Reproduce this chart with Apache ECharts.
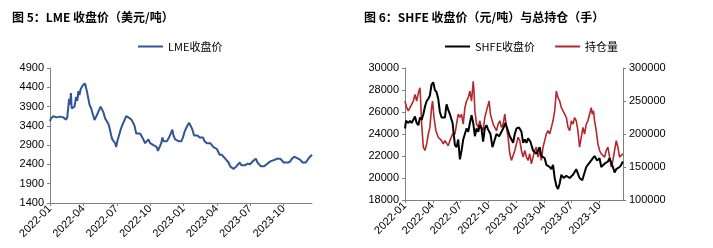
<!DOCTYPE html>
<html>
<head>
<meta charset="utf-8">
<script src="https://cdn.jsdelivr.net/npm/echarts@6/dist/echarts.min.js"></script>
<style>
  html, body { margin: 0; padding: 0; background: #fff; }
  #main { width: 713px; height: 248px; }
</style>
</head>
<body>
<div id="main"></div>
<script>
// x values are months counted from 2022-01 (0 = start of Jan 2022)
var lmeMonths = [0.00,0.10,0.20,0.30,0.45,0.60,0.75,0.90,1.05,1.20,1.35,1.45,1.55,1.65,1.72,1.80,1.88,1.95,2.05,2.20,
  2.35,2.45,2.55,2.65,2.75,2.85,2.95,3.05,3.15,3.25,3.35,3.45,3.55,3.70,3.85,4.00,4.10,4.25,4.40,4.55,
  4.65,4.80,4.95,5.10,5.25,5.35,5.50,5.60,5.75,5.85,5.95,6.05,6.20,6.40,6.55,6.70,6.85,7.00,7.15,7.35,
  7.50,7.60,7.75,7.90,8.10,8.30,8.45,8.55,8.70,8.85,9.00,9.15,9.30,9.45,9.60,9.70,9.85,10.00,10.10,10.20,
  10.35,10.50,10.70,10.85,11.00,11.10,11.25,11.40,11.60,11.80,11.95,12.10,12.25,12.40,12.50,12.65,12.80,12.95,13.10,13.25,
  13.45,13.60,13.75,13.90,14.10,14.25,14.40,14.55,14.70,14.85,15.00,15.10,15.25,15.45,15.60,15.75,15.90,16.05,16.20,16.35,
  16.50,16.60,16.75,16.90,17.05,17.20,17.35,17.55,17.75,17.95,18.10,18.30,18.50,18.65,18.80,18.95,19.10,19.25,19.45,19.60,
  19.80,20.00,20.20,20.40,20.55,20.70,20.85,21.00,21.20,21.40,21.60,21.75,21.95,22.10,22.30,22.50,22.70,22.85,23.00,23.15,
  23.30,23.55];
var lmeValues = [3520,3600,3560,3650,3600,3620,3600,3640,3600,3620,3590,3560,3620,3900,4100,3950,4250,3850,3820,3900,
  4150,4050,4300,4200,4350,4300,4450,4400,4500,4450,4250,4100,3950,3850,3700,3550,3600,3700,3800,3900,
  3880,3750,3600,3550,3450,3350,3150,3050,3050,2950,2850,3000,3150,3350,3450,3500,3650,3600,3600,3550,
  3550,3400,3200,3150,3200,3100,3050,2950,2950,3050,2950,2950,2900,2950,2850,2750,2850,2950,3100,3000,
  2950,3000,3100,3200,3300,3150,3050,3000,3000,3000,3100,3250,3350,3400,3480,3400,3300,3150,3100,3150,
  3100,3050,3100,3000,2950,2900,2950,2900,2850,2850,2800,2750,2650,2650,2600,2550,2500,2450,2350,2300,
  2280,2250,2350,2400,2450,2380,2400,2380,2420,2400,2450,2500,2550,2450,2400,2350,2300,2350,2400,2450,
  2480,2500,2520,2550,2600,2550,2500,2450,2450,2450,2480,2550,2600,2580,2550,2520,2450,2400,2450,2500,
  2580,2650];

var shfeMonths = [0.00,0.11,0.36,0.54,0.72,0.90,1.08,1.26,1.44,1.62,1.80,1.98,2.16,2.34,2.52,2.69,2.87,3.05,3.23,3.41,
  3.59,3.77,3.95,4.13,4.31,4.49,4.67,4.85,5.14,5.39,5.57,5.75,5.93,6.11,6.29,6.47,6.65,6.83,7.01,7.19,
  7.37,7.55,7.73,7.91,8.08,8.26,8.44,8.62,8.80,8.98,9.23,9.45,9.70,9.88,10.17,10.42,10.60,10.85,11.32,11.50,
  11.68,11.86,12.04,12.32,12.58,12.76,12.94,13.12,13.30,13.55,13.83,14.19,14.55,14.73,15.09,15.27,15.63,15.81,15.99,16.17,
  16.35,16.53,16.71,16.89,17.14,17.43,17.79,18.15,18.50,18.68,18.86,19.15,19.40,19.58,19.94,20.30,20.48,20.73,21.02,21.20,
  21.56,21.92,22.10,22.28,22.46,22.64,22.82,23.18,23.36,23.54];
var shfeValues = [24500,25200,25000,25200,25000,25300,25600,25000,24800,25500,25300,25800,26500,27000,27200,27500,28500,28700,28000,27800,
  27200,26000,25500,25600,25500,26700,26200,25800,25000,23000,22800,23500,21700,22500,23500,24000,24500,24200,25000,25700,
  25000,23800,24500,24200,24800,24500,23300,24500,24800,24400,24000,22800,23500,24000,23800,24200,24500,25000,23800,23500,
  23200,24000,24500,24600,24200,23200,23500,23200,23600,23300,22500,22200,22800,22000,21800,21200,21000,20800,21200,20000,
  19300,19000,19500,20300,20000,20200,20000,20300,20800,20400,20000,19800,20500,21000,21400,21800,22000,21600,21800,21000,
  21300,21500,21800,21400,21000,20500,20800,21000,21200,21500];

var oiMonths = [0.00,0.18,0.36,0.54,0.72,0.90,1.08,1.26,1.44,1.62,1.69,1.80,1.98,2.16,2.34,2.52,2.69,2.87,2.98,3.13,
  3.34,3.59,3.95,4.13,4.31,4.67,4.85,5.14,5.39,5.57,5.75,5.93,6.11,6.29,6.47,6.65,6.83,7.01,7.19,7.37,
  7.47,7.55,7.73,7.91,8.08,8.26,8.44,8.62,8.80,9.09,9.23,9.52,9.70,9.88,10.06,10.24,10.42,10.60,10.78,10.96,
  11.14,11.32,11.50,11.68,11.86,12.04,12.22,12.40,12.58,12.76,12.94,13.12,13.30,13.47,13.65,13.83,14.01,14.19,14.37,14.55,
  14.73,14.91,15.09,15.27,15.45,15.63,15.81,15.99,16.17,16.35,16.53,16.71,16.89,17.07,17.25,17.43,17.61,17.79,17.97,18.15,
  18.32,18.50,18.68,18.86,19.04,19.22,19.40,19.58,19.76,19.94,20.12,20.23,20.37,20.48,20.66,20.84,21.02,21.20,21.38,21.56,
  21.74,21.92,22.10,22.28,22.46,22.64,22.82,23.00,23.18,23.36,23.54];
var oiValues = [250000,240000,235000,240000,245000,250000,260000,250000,262000,270000,250000,215000,180000,175000,185000,200000,210000,240000,250000,225000,
  205000,195000,190000,185000,190000,182000,190000,200000,200000,215000,230000,225000,230000,215000,240000,250000,255000,265000,250000,280000,
  260000,235000,215000,210000,220000,210000,205000,225000,235000,250000,230000,215000,210000,205000,215000,220000,210000,215000,230000,210000,
  195000,170000,160000,158000,175000,185000,195000,190000,175000,165000,175000,165000,160000,170000,155000,165000,175000,180000,165000,175000,
  160000,180000,190000,200000,205000,200000,210000,220000,235000,265000,255000,250000,240000,235000,230000,225000,210000,205000,220000,215000,
  225000,220000,205000,180000,195000,210000,200000,215000,220000,230000,240000,230000,235000,220000,205000,185000,175000,170000,172000,165000,
  175000,180000,165000,150000,160000,175000,190000,180000,165000,162000,170000];

var quarterTicks = [0, 3, 6, 9, 12, 15, 18, 21];

function zip(xs, ys) {
    return xs.map(function (x, i) { return [x, ys[i]]; });
}

function monthLabel(v) {
    var y = 2022 + Math.floor(v / 12);
    var m = Math.round(v % 12) + 1;
    return y + '-' + (m < 10 ? '0' + m : m);
}

var axisColor = '#808080';
var labelStyle = { color: '#000', fontSize: 11, fontFamily: 'Liberation Sans, Arial' };

function xAxisFor(gridIndex, max) {
    return {
        type: 'value', gridIndex: gridIndex, min: 0, max: max,
        axisLine: { lineStyle: { color: axisColor } },
        axisTick: { show: true, length: 3, lineStyle: { color: axisColor }, customValues: quarterTicks },
        splitLine: { show: false },
        axisLabel: Object.assign({ rotate: 45, margin: 4, formatter: monthLabel, customValues: quarterTicks }, labelStyle)
    };
}

function yAxisFor(gridIndex, min, max, interval, position) {
    return {
        type: 'value', gridIndex: gridIndex, min: min, max: max, interval: interval, position: position,
        axisLine: { show: true, lineStyle: { color: axisColor } },
        axisTick: { show: true, length: 3, lineStyle: { color: axisColor } },
        splitLine: { show: false },
        axisLabel: Object.assign({ margin: 6, formatter: function (v) { return String(v); } }, labelStyle)
    };
}

var chart = echarts.init(document.getElementById('main'));

var option = {
    backgroundColor: '#fff',
    animation: false,
    title: [
        { text: '图 5：LME 收盘价（美元/吨）', left: 7, top: 6,
          textStyle: { fontSize: 12, fontWeight: 'bold', color: '#000', fontFamily: 'Noto Sans CJK SC' } },
        { text: '图 6：SHFE 收盘价（元/吨）与总持仓（手）', left: 359, top: 6,
          textStyle: { fontSize: 12, fontWeight: 'bold', color: '#000', fontFamily: 'Noto Sans CJK SC' } }
    ],
    legend: [
        { data: ['LME收盘价'], left: 133, top: 36, icon: 'rect', itemWidth: 25, itemHeight: 2,
          textStyle: { fontSize: 11, color: '#000', fontFamily: 'Noto Sans CJK SC' } },
        { data: ['SHFE收盘价', '持仓量'], left: 440, top: 36, icon: 'rect', itemWidth: 25, itemHeight: 2, itemGap: 20,
          textStyle: { fontSize: 11, color: '#000', fontFamily: 'Noto Sans CJK SC' } }
    ],
    grid: [
        { left: 50, top: 68, width: 262, height: 135 },
        { left: 405, top: 68, width: 218, height: 132 }
    ],
    xAxis: [
        xAxisFor(0, 23.55),
        xAxisFor(1, 23.55)
    ],
    yAxis: [
        yAxisFor(0, 1400, 4900, 500, 'left'),
        yAxisFor(1, 18000, 30000, 2000, 'left'),
        yAxisFor(1, 100000, 300000, 50000, 'right')
    ],
    series: [
        { name: 'LME收盘价', type: 'line', xAxisIndex: 0, yAxisIndex: 0, showSymbol: false,
          data: zip(lmeMonths, lmeValues), color: '#2F5597', lineStyle: { width: 2 } },
        { name: '持仓量', type: 'line', xAxisIndex: 1, yAxisIndex: 2, showSymbol: false,
          data: zip(oiMonths, oiValues), color: '#B5282E', lineStyle: { width: 1.6 } },
        { name: 'SHFE收盘价', type: 'line', xAxisIndex: 1, yAxisIndex: 1, showSymbol: false,
          data: zip(shfeMonths, shfeValues), color: '#000000', lineStyle: { width: 2 } }
    ]
};

chart.setOption(option);
</script>
</body>
</html>
